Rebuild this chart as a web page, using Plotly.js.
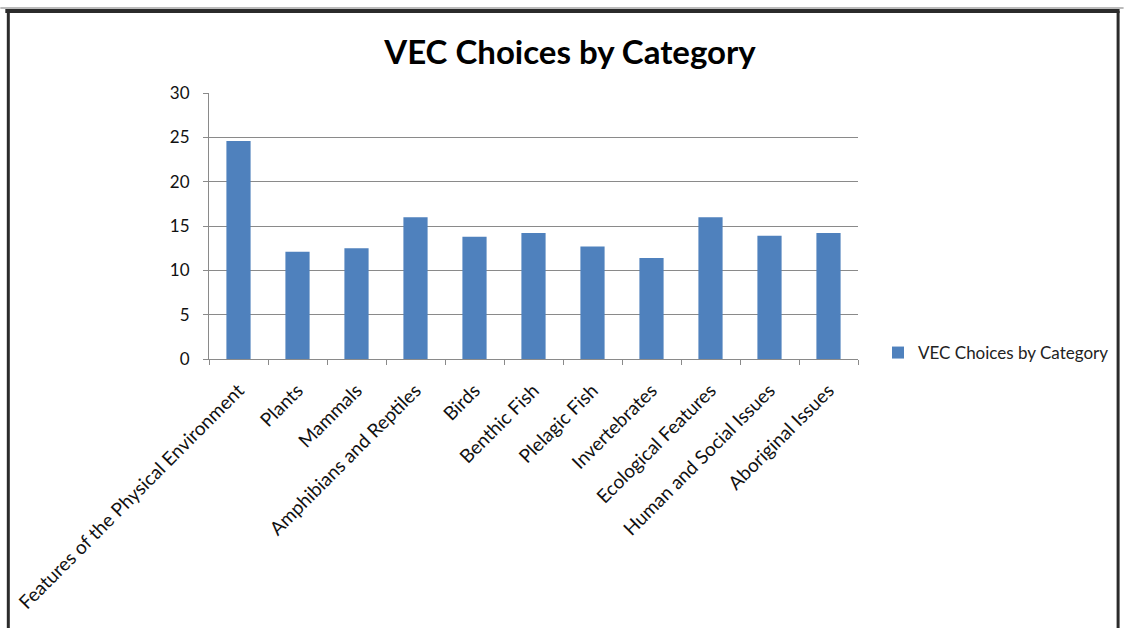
<!DOCTYPE html>
<html>
<head>
<meta charset="utf-8">
<script src="https://cdn.plot.ly/plotly-3.0.1.min.js"></script>
<style>
  html, body { margin: 0; padding: 0; background: #fff; }
  #chart { width: 1125px; height: 628px; }
</style>
</head>
<body>
<div id="chart"></div>
<script>
const categories = [
  "Features of the Physical Environment",
  "Plants",
  "Mammals",
  "Amphibians and Reptiles",
  "Birds",
  "Benthic Fish",
  "Plelagic Fish",
  "Invertebrates",
  "Ecological Features",
  "Human and Social Issues",
  "Aboriginal Issues"
];
const values = [24.6, 12.1, 12.5, 16.0, 13.8, 14.2, 12.7, 11.4, 16.0, 13.9, 14.2];
const yTicks = [0, 5, 10, 15, 20, 25, 30];
const seriesName = "VEC Choices by Category";
const chartTitle = "VEC Choices by Category";

const W = 1125, H = 628;
const M = { l: 209, r: 266, t: 93, b: 269 };
const pw = W - M.l - M.r, ph = H - M.t - M.b;
const px = x => (x - M.l) / pw;
const py = y => (H - M.b - y) / ph;

const font = "Lato, 'Open Sans', 'Liberation Sans', sans-serif";
const gray = "#8a8a8a";

const trace = {
  type: "bar",
  x: categories,
  y: values,
  name: seriesName,
  marker: { color: "#4F81BD" },
  showlegend: true,
  hoverinfo: "x+y"
};

const border = "#2b2b2b";
const layout = {
  width: W, height: H,
  margin: M,
  paper_bgcolor: "#fff",
  plot_bgcolor: "#fff",
  bargap: 0.59,
  title: {
    text: "<b>" + chartTitle + "</b>",
    font: { family: font, size: 33, color: "#000" },
    x: 570 / W, xref: "container", xanchor: "center",
    y: 1 - 52 / H, yref: "container", yanchor: "middle"
  },
  xaxis: {
    type: "category",
    tickangle: -45,
    tickson: "boundaries",
    ticks: "outside",
    ticklen: 5,
    tickcolor: gray,
    showline: true,
    linecolor: gray,
    linewidth: 1,
    showgrid: false,
    ticklabelstandoff: 12,
    tickfont: { family: font, size: 19, color: "#111" },
    fixedrange: true
  },
  yaxis: {
    range: [0, 30],
    tickvals: yTicks,
    ticks: "outside",
    ticklen: 5,
    tickcolor: gray,
    showline: true,
    linecolor: gray,
    linewidth: 1,
    showgrid: true,
    gridcolor: gray,
    gridwidth: 1,
    zeroline: false,
    ticklabelstandoff: 10,
    tickfont: { family: font, size: 17, color: "#111" },
    fixedrange: true
  },
  legend: {
    x: px(878), xanchor: "left",
    y: py(353), yanchor: "middle",
    font: { family: font, size: 17, color: "#222" },
    bgcolor: "rgba(0,0,0,0)",
    itemwidth: 30
  },
  shapes: [
    { type: "line", xref: "paper", yref: "paper", x0: px(0), x1: px(W), y0: py(8), y1: py(8), line: { color: "#bbbbbb", width: 2 } },
    { type: "line", xref: "paper", yref: "paper", x0: px(5), x1: px(1121), y0: py(11), y1: py(11), line: { color: border, width: 4 } },
    { type: "line", xref: "paper", yref: "paper", x0: px(8), x1: px(8), y0: py(11), y1: py(H), line: { color: border, width: 3 } },
    { type: "line", xref: "paper", yref: "paper", x0: px(1119.5), x1: px(1119.5), y0: py(11), y1: py(H), line: { color: border, width: 3 } }
  ]
};

Plotly.newPlot("chart", [trace], layout, { displayModeBar: false, staticPlot: false });
</script>
</body>
</html>
